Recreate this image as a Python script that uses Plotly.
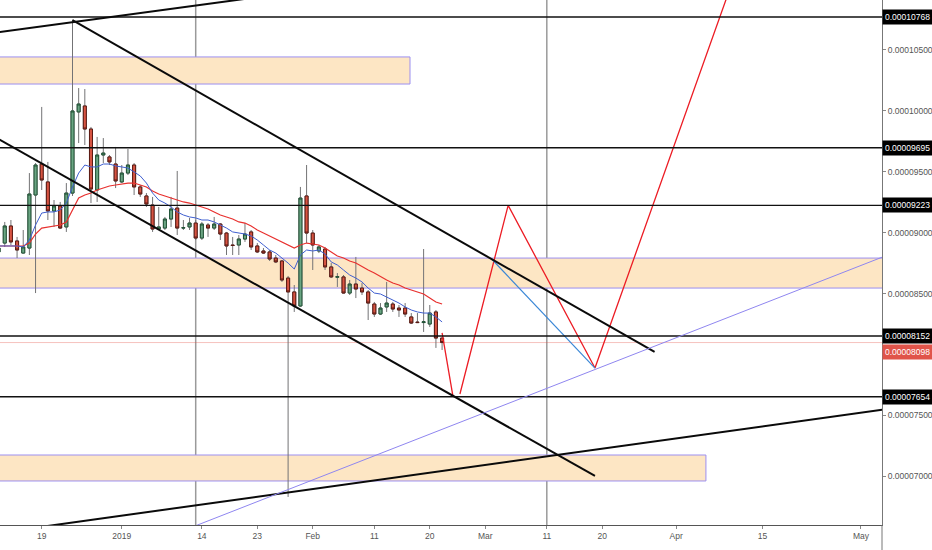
import plotly.graph_objects as go
import pandas as pd

# prices are stored in units of 1e-8 (satoshi-like) and scaled when plotted
SCALE = 1e-8

dates = pd.date_range("2018-12-12", "2019-02-22", freq="D")

opens = [8841, 8914, 9054, 8931, 8832, 8873, 9308, 9562, 9415, 9177, 9218, 9046, 9324, 9989,
         10038, 9849, 9349, 9636, 9620, 9562, 9415, 9488, 9554, 9374, 9300, 9226, 9029, 9037,
         9111, 9201, 9037, 9046, 9078, 8955, 9062, 9037, 9070, 8996, 8898, 8898, 8947, 9005,
         8890, 8849, 8841, 8791, 8767, 8627, 8513, 8398, 9300, 8996, 8849, 8865, 8718, 8634,
         8636, 8504, 8578, 8545, 8513, 8414, 8332, 8390, 8414, 8381, 8381, 8308, 8266, 8262,
         8250, 8349, 8135]
highs = [8898, 9087, 9103, 8964, 9021, 9488, 9570, 10030, 9579, 9267, 9251, 9406, 10745, 10185,
         10177, 9866, 9784, 9775, 9636, 9702, 9554, 9685, 9570, 9390, 9324, 9292, 9210, 9128,
         9292, 9505, 9103, 9120, 9103, 9087, 9078, 9128, 9078, 9005, 8964, 8980, 9078, 9021,
         8914, 8873, 8857, 8816, 8775, 8644, 8570, 9374, 9554, 9021, 8898, 8882, 8750, 8668,
         8652, 8611, 8800, 8586, 8529, 8431, 8422, 8595, 8431, 8406, 8422, 8340, 8340, 8865,
         8406, 8365, 8135]
lows = [8808, 8882, 8898, 8791, 8828, 8816, 8504, 9349, 9103, 9046, 9029, 9005, 9300, 9734,
        9718, 9242, 9251, 9570, 9554, 9365, 9406, 9472, 9308, 9292, 9210, 9005, 9021, 9021,
        9046, 8980, 9021, 9021, 8939, 8939, 8964, 9021, 8939, 8816, 8816, 8816, 8923, 8857,
        8832, 8824, 8767, 8750, 8595, 6832, 8349, 8390, 8914, 8693, 8832, 8693, 8627, 8554,
        8500, 8488, 8463, 8488, 8283, 8308, 8324, 8349, 8349, 8308, 8308, 8250, 8258, 8185,
        8226, 8054, 8037]
closes = [8873, 9054, 8923, 8857, 8882, 9316, 9554, 9431, 9177, 9218, 9037, 9324, 9997, 10054,
          9849, 9357, 9636, 9652, 9579, 9423, 9488, 9554, 9374, 9316, 9234, 9029, 9046, 9111,
          9193, 9037, 9040, 9078, 8955, 9070, 9037, 9070, 8988, 8890, 8894, 8947, 8988, 8882,
          8841, 8832, 8783, 8759, 8611, 8513, 8398, 9283, 8996, 8898, 8882, 8718, 8636, 8638,
          8504, 8578, 8537, 8513, 8422, 8332, 8381, 8422, 8373, 8365, 8332, 8258, 8262, 8268,
          8340, 8135, 8098]

# moving averages
ema_fast = [8890, 8890, 8890, 8890, 8882, 8939, 9062, 9160, 9169, 9169, 9185, 9242, 9374, 9488,
            9554, 9538, 9538, 9562, 9562, 9546, 9538, 9529, 9497, 9464, 9406, 9324, 9267, 9242,
            9210, 9169, 9144, 9128, 9120, 9103, 9103, 9087, 9062, 9037, 9005, 8996, 8988, 8972,
            8939, 8898, 8857, 8832, 8791, 8750, 8701, 8816, 8857, 8849, 8857, 8824, 8759, 8734,
            8693, 8652, 8627, 8595, 8545, 8504, 8496, 8472, 8447, 8422, 8390, 8365, 8349, 8340,
            8340, 8308, 8267]
ema_slow = [8890, 8890, 8890, 8890, 8890, 8914, 8988, 9037, 9046, 9054, 9062, 9087, 9185, 9283,
            9308, 9324, 9349, 9365, 9382, 9390, 9398, 9406, 9406, 9390, 9374, 9341, 9316, 9300,
            9283, 9267, 9251, 9242, 9226, 9210, 9193, 9169, 9144, 9128, 9111, 9087, 9078, 9054,
            9021, 8996, 8972, 8947, 8923, 8898, 8873, 8898, 8914, 8906, 8898, 8873, 8841, 8808,
            8791, 8767, 8750, 8718, 8693, 8668, 8636, 8611, 8586, 8570, 8545, 8529, 8513, 8496,
            8463, 8431, 8414]

# drawings
levels = [10768, 9695, 9223, 8152, 7654]
last_price = 8098
v_lines = ["2019-01-13", "2019-03-11"]
zones = [("2018-11-20", "2019-02-16 19:00", 10218, 10440),
         ("2018-11-20", "2019-05-20", 8545, 8791),
         ("2018-11-20", "2019-04-05 20:00", 6963, 7176)]
trend_lines = [(("2018-12-12", 10643), ("2019-01-22", 10923)),
               (("2018-12-24", 10741), ("2019-03-28 12:00", 8021)),
               (("2018-12-12", 9766), ("2019-03-18 19:40", 7004)),
               (("2018-12-13", 6545), ("2019-05-06", 7558))]
support_line = (("2019-01-13", 6596), ("2019-05-06", 8829))
proj_blue = (("2019-03-02 01:00", 8783), ("2019-03-18 19:40", 7889))
proj_red_1 = [("2019-02-22", 8177), ("2019-02-23 18:30", 7654)]
proj_red_2 = [("2019-02-24 21:30", 7676), ("2019-03-04 17:20", 9223),
              ("2019-03-18 19:40", 7889), ("2019-04-10", 11039)]

y_ticks = [7000, 7500, 8500, 9000, 9500, 10000, 10500]
x_tick_dates = ["2018-12-19", "2019-01-01", "2019-01-14", "2019-01-23", "2019-02-01",
                "2019-02-11", "2019-02-20", "2019-03-01", "2019-03-11", "2019-03-20",
                "2019-04-01", "2019-04-15", "2019-05-01"]
x_tick_text = ["19", "2019", "14", "23", "Feb", "11", "20", "Mar", "11", "20", "Apr", "15", "May"]

x_range = ["2018-12-12 05:30", "2019-05-04 10:00"]
y_range = [6602, 10907]

FONT = "Liberation Sans, Arial"

def p(v):
    return v * SCALE

fig = go.Figure()

# wicks (grey), body outline drawn again on top
fig.add_trace(go.Candlestick(
    x=dates, open=[p(v) for v in opens], high=[p(v) for v in highs],
    low=[p(v) for v in lows], close=[p(v) for v in closes],
    increasing=dict(line=dict(color="#737375", width=1), fillcolor="#737375"),
    decreasing=dict(line=dict(color="#737375", width=1), fillcolor="#737375"),
    hoverinfo="skip", showlegend=False))
fig.add_trace(go.Candlestick(
    x=dates, open=[p(v) for v in opens], close=[p(v) for v in closes],
    high=[p(max(o, c)) for o, c in zip(opens, closes)],
    low=[p(min(o, c)) for o, c in zip(opens, closes)],
    increasing=dict(line=dict(color="#225437", width=1), fillcolor="#6ba583"),
    decreasing=dict(line=dict(color="#5b1a13", width=1), fillcolor="#d75442"),
    showlegend=False))

fig.add_trace(go.Scatter(x=dates, y=[p(v) for v in ema_slow], mode="lines",
                         line=dict(color="#e8302e", width=1.2), showlegend=False))
fig.add_trace(go.Scatter(x=dates, y=[p(v) for v in ema_fast], mode="lines",
                         line=dict(color="#3f5fd0", width=1), showlegend=False))

# projection paths
for path in (proj_red_1, proj_red_2):
    fig.add_trace(go.Scatter(x=[d for d, _ in path], y=[p(v) for _, v in path], mode="lines",
                             line=dict(color="#ec1c24", width=1.3), showlegend=False))
fig.add_trace(go.Scatter(x=[d for d, _ in proj_blue], y=[p(v) for _, v in proj_blue],
                         mode="lines", line=dict(color="#3a87d6", width=1.2), showlegend=False))

shapes = []
for x0, x1, y0, y1 in zones:
    shapes.append(dict(type="rect", xref="x", yref="y", x0=x0, x1=x1, y0=p(y0), y1=p(y1),
                       fillcolor="#fde6c4", line=dict(color="#9c8ff0", width=1), layer="below"))
for d in v_lines:
    shapes.append(dict(type="line", xref="x", yref="paper", x0=d, x1=d, y0=0, y1=1,
                       line=dict(color="#9a9a9a", width=1.5), layer="below"))
shapes.append(dict(type="line", xref="paper", yref="y", x0=0, x1=1,
                   y0=p(last_price), y1=p(last_price),
                   line=dict(color="rgba(226,80,70,0.35)", width=1), layer="below"))
for lv in levels:
    shapes.append(dict(type="line", xref="paper", yref="y", x0=0, x1=1, y0=p(lv), y1=p(lv),
                       line=dict(color="#111111", width=1.4)))
for (a, b) in trend_lines:
    shapes.append(dict(type="line", xref="x", yref="y", x0=a[0], y0=p(a[1]), x1=b[0],
                       y1=p(b[1]), line=dict(color="#0a0a0a", width=2)))
shapes.append(dict(type="line", xref="x", yref="y", x0=support_line[0][0],
                   y0=p(support_line[0][1]), x1=support_line[1][0], y1=p(support_line[1][1]),
                   line=dict(color="#8f86f0", width=1)))
# price axis line running down through the date labels
shapes.append(dict(type="line", xref="paper", yref="paper", x0=1, x1=1, y0=0, y1=-0.06,
                   line=dict(color="#777777", width=1)))

annotations = []
for lv in levels:
    annotations.append(dict(xref="paper", yref="y", x=1, y=p(lv), xanchor="left",
                            yanchor="middle", showarrow=False, text=f"{p(lv):.8f}",
                            bgcolor="#000000", borderpad=2,
                            font=dict(family=FONT, size=8.5, color="white")))
annotations.append(dict(xref="paper", yref="y", x=1, y=p(last_price), xanchor="left",
                        yanchor="middle", yshift=-9, showarrow=False,
                        text=f"{p(last_price):.8f}", bgcolor="#e0544a", borderpad=2,
                        font=dict(family=FONT, size=8.5, color="white")))

fig.update_layout(
    width=932, height=550,
    margin=dict(l=0, r=50, t=0, b=25),
    paper_bgcolor="white", plot_bgcolor="white",
    showlegend=False,
    shapes=shapes, annotations=annotations,
    xaxis=dict(range=x_range, rangeslider=dict(visible=False), showgrid=False,
               zeroline=False, showline=True, linecolor="#555555", linewidth=1,
               ticks="outside", ticklen=3, tickcolor="#888888",
               tickvals=x_tick_dates, ticktext=x_tick_text,
               tickfont=dict(family=FONT, size=8.5, color="#555555")),
    yaxis=dict(range=[p(v) for v in y_range], side="right", showgrid=False,
               zeroline=False, showline=True, linecolor="#777777", linewidth=1,
               ticks="outside", ticklen=3, tickcolor="#888888",
               tickvals=[p(v) for v in y_ticks], ticktext=[f"{p(v):.8f}" for v in y_ticks],
               tickfont=dict(family=FONT, size=8.5, color="#555555")),
)

# the page's default body margin would push the fixed-size figure off the window
fig.write_html("out.html", config={"displayModeBar": False},
               post_script="document.body.style.margin='0';")
